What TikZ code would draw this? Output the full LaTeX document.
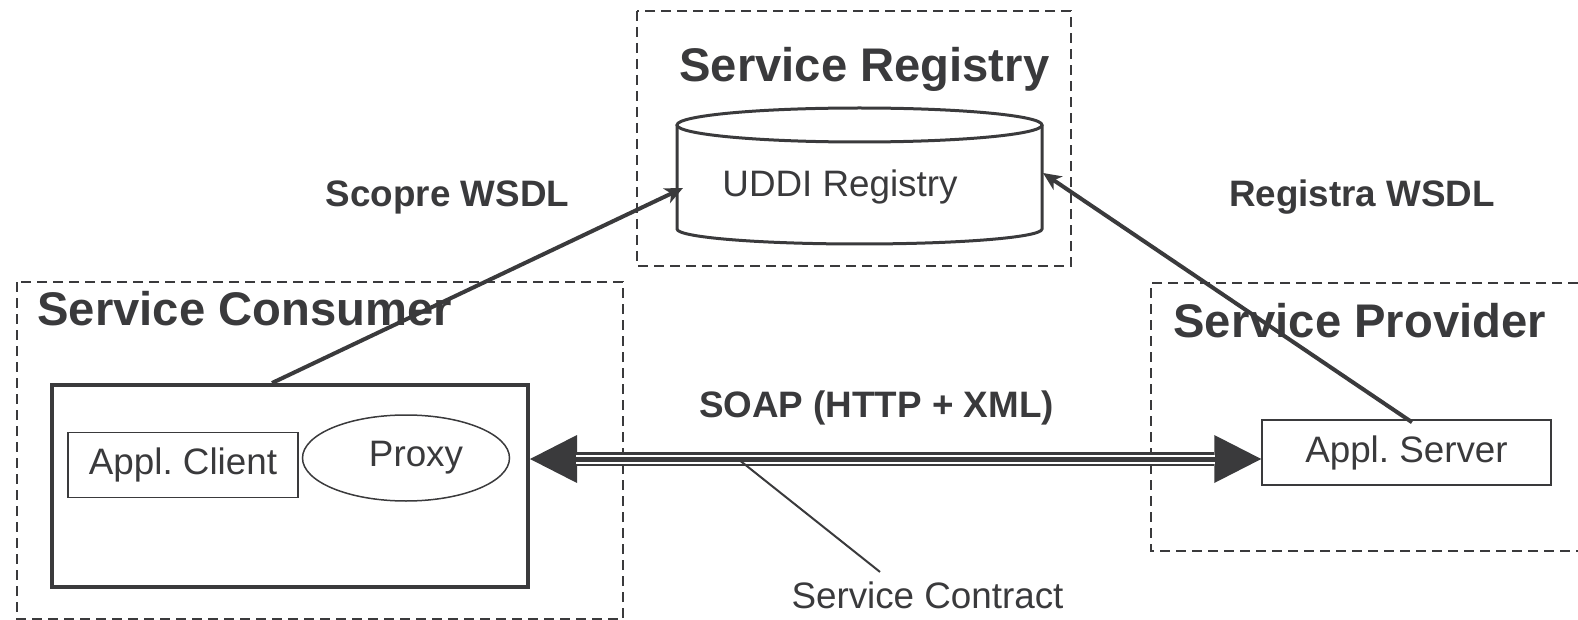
\documentclass[tikz,border=0pt]{standalone}
\usepackage{fontspec}
\setmainfont{Liberation Sans}
\usepackage{tikz}
\usetikzlibrary{shapes,arrows.meta,positioning}
\definecolor{ink}{RGB}{58,58,60}

\begin{document}
\begin{tikzpicture}[x=0.5pt,y=-0.5pt,color=ink,text=ink]

\tikzset{>=Stealth, bighead/.tip={Triangle[length=23.5pt,width=24pt,line width=0pt]}}
\def\rx{91.25pt}
\tikzstyle{group} = [draw=ink, line width=1pt, dash pattern=on 5pt off 3pt];
\tikzstyle{box} = [draw=ink, rectangle, line width=0.75pt, inner sep=0pt,
	font=\fontsize{18.4}{22}\selectfont];
\tikzstyle{title} = [inner sep=0pt, anchor=base west, font=\fontsize{23.6}{28}\selectfont\bfseries];
\tikzstyle{lbl} = [inner sep=0pt, anchor=base, font=\fontsize{18.4}{22}\selectfont\bfseries];
\tikzstyle{txt} = [inner sep=0pt, anchor=base, font=\fontsize{18.4}{22}\selectfont];
\tikzstyle{call} = [line width=2pt, -{Stealth[length=9pt,width=8pt,inset=2.5pt]}];

\path[use as bounding box] (0,0) rectangle (1578,620);

\draw[group] (637,11) rectangle (1071,266);
\draw[group] (17,282) rectangle (623,619);
\draw[group] (1578,283) -| (1151,551) -- (1578,551);

\node[title] (regtitle) at (679,82) {Service Registry};
\node[title] (contitle) at (37,325) {Service Consumer};
\node[title] (provtitle) at (1173,337) {Service Provider};

\node[draw=none, inner sep=0pt, outer sep=0pt, minimum width=182.5pt, minimum height=52pt] (reg) at (859.5,177) {};
\draw[line width=1.5pt] (reg.north west) -- (reg.south west)
	arc[start angle=180, end angle=360, x radius=\rx, y radius=7.5pt] -- (reg.north east);
\draw[line width=1.5pt] (reg.north) ellipse[x radius=\rx, y radius=8.5pt];
\node[txt] (uddi) at (840,197) {UDDI Registry};

\node[box, line width=2pt, minimum width=238pt, minimum height=101pt] (consumer) at (290,486) {};
\node[box, minimum width=115pt, minimum height=32.5pt] (client) at (183,465) {Appl.\ Client};
\node[box, ellipse, minimum width=103.5pt, minimum height=43pt] (proxy) at (406,458) {\hspace{10pt}Proxy};
\node[box, minimum width=144.5pt, minimum height=32.5pt] (server) at (1406.5,452.5) {Appl.\ Server};

\coordinate (wire) at (0,459);
\draw[line width=7pt, bighead-bighead]
	(consumer.east |- wire) -- (server.west |- wire);
\draw[white, line width=4.5pt, shorten <=23pt, shorten >=23pt]
	(consumer.east |- wire) -- (server.west |- wire);
\draw[line width=2.5pt, shorten <=23pt, shorten >=23pt]
	(consumer.east |- wire) -- (server.west |- wire);
\node[lbl] (soap) at (876.5,417) {SOAP (HTTP + XML)};

\coordinate (tap) at (738,459);
\node[txt] (contract) at (927.5,608) {Service Contract};
\draw[line width=1pt] (tap) -- ([xshift=-23.75pt,yshift=4.5pt]contract.north);

\draw[call] ([xshift=-9pt]consumer.north) -- ([xshift=3pt,yshift=-5.5pt]reg.west);
\node[lbl] (find) at (447.5,207) {Scopre WSDL};

\draw[call] ([xshift=2.75pt,yshift=-1.5pt]server.north) -- ([xshift=0.5pt,yshift=2pt]reg.east);
\node[lbl] (publish) at (1362,207) {Registra WSDL};

\end{tikzpicture}
\end{document}
